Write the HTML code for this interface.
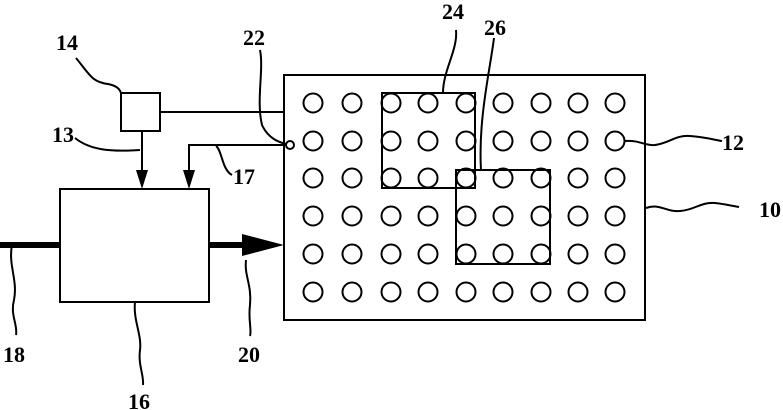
<!DOCTYPE html>
<html><head><style>
html,body{margin:0;padding:0;background:#fff;}
svg{display:block;}
text{font-family:"Liberation Serif",serif;font-size:22px;font-weight:bold;fill:#000;}
</style></head><body>
<svg width="783" height="410" viewBox="0 0 783 410" xmlns="http://www.w3.org/2000/svg">
<g fill="none" stroke="#000" stroke-width="2">
<rect x="284" y="75" width="361" height="245"/>
<rect x="382" y="93" width="93" height="95"/>
<rect x="456" y="170" width="94" height="94"/>
<rect x="121" y="93" width="39" height="38"/>
<rect x="60" y="189" width="149" height="113"/>
<line x1="160" y1="112" x2="284" y2="112"/>
<line x1="142" y1="131" x2="142" y2="170"/>
<polyline points="189,170 189,145 286,145"/>
<circle cx="290" cy="145" r="4"/>
<path d="M76,58 C90,75 92,82 108,84 C118,86 120,90 121,93"/>
<path d="M75,138 C90,150 110,152 140,150"/>
<path d="M260,50 C264,70 256,100 262,125 C268,138 278,142 286,144"/>
<path d="M216,146 C222,150 222,170 232,175"/>
<path d="M456,30 C458,50 443,70 443,93"/>
<path d="M494,38 C490,70 478,120 481,170"/>
<path d="M625,141 C640,140 645,146 655,145 C670,143 675,135 690,136 C705,137 715,140 722,141"/>
<path d="M646,208 C660,203 665,212 680,211 C695,210 700,202 715,203 C725,204 732,206 739,207"/>
<path d="M12,245 C8,265 18,280 14,300 C10,315 18,325 16,335"/>
<path d="M135,302 C133,320 142,335 140,350 C138,365 144,375 143,385"/>
<path d="M246,260 C244,275 252,285 250,305 C248,320 252,330 250,336"/>
</g>
<g fill="#000">
<polygon points="136,170 148,170 142,189"/>
<polygon points="183,170 195,170 189,189"/>
<rect x="0" y="242" width="60" height="6"/>
<rect x="209" y="242" width="35" height="6"/>
<polygon points="242,234 284,245 242,256"/>
</g>
<g fill="none" stroke="#000" stroke-width="2">
<circle cx="313" cy="103" r="9.5"/><circle cx="352" cy="103" r="9.5"/><circle cx="391" cy="103" r="9.5"/><circle cx="428" cy="103" r="9.5"/><circle cx="466" cy="103" r="9.5"/><circle cx="503" cy="103" r="9.5"/><circle cx="541" cy="103" r="9.5"/><circle cx="578" cy="103" r="9.5"/><circle cx="615" cy="103" r="9.5"/>
<circle cx="313" cy="141" r="9.5"/><circle cx="352" cy="141" r="9.5"/><circle cx="391" cy="141" r="9.5"/><circle cx="428" cy="141" r="9.5"/><circle cx="466" cy="141" r="9.5"/><circle cx="503" cy="141" r="9.5"/><circle cx="541" cy="141" r="9.5"/><circle cx="578" cy="141" r="9.5"/><circle cx="615" cy="141" r="9.5"/>
<circle cx="313" cy="178" r="9.5"/><circle cx="352" cy="178" r="9.5"/><circle cx="391" cy="178" r="9.5"/><circle cx="428" cy="178" r="9.5"/><circle cx="466" cy="178" r="9.5"/><circle cx="503" cy="178" r="9.5"/><circle cx="541" cy="178" r="9.5"/><circle cx="578" cy="178" r="9.5"/><circle cx="615" cy="178" r="9.5"/>
<circle cx="313" cy="216" r="9.5"/><circle cx="352" cy="216" r="9.5"/><circle cx="391" cy="216" r="9.5"/><circle cx="428" cy="216" r="9.5"/><circle cx="466" cy="216" r="9.5"/><circle cx="503" cy="216" r="9.5"/><circle cx="541" cy="216" r="9.5"/><circle cx="578" cy="216" r="9.5"/><circle cx="615" cy="216" r="9.5"/>
<circle cx="313" cy="254" r="9.5"/><circle cx="352" cy="254" r="9.5"/><circle cx="391" cy="254" r="9.5"/><circle cx="428" cy="254" r="9.5"/><circle cx="466" cy="254" r="9.5"/><circle cx="503" cy="254" r="9.5"/><circle cx="541" cy="254" r="9.5"/><circle cx="578" cy="254" r="9.5"/><circle cx="615" cy="254" r="9.5"/>
<circle cx="313" cy="292" r="9.5"/><circle cx="352" cy="292" r="9.5"/><circle cx="391" cy="292" r="9.5"/><circle cx="428" cy="292" r="9.5"/><circle cx="466" cy="292" r="9.5"/><circle cx="503" cy="292" r="9.5"/><circle cx="541" cy="292" r="9.5"/><circle cx="578" cy="292" r="9.5"/><circle cx="615" cy="292" r="9.5"/>
</g>
<text x="56" y="50">14</text>
<text x="243" y="45">22</text>
<text x="52" y="142">13</text>
<text x="233" y="184">17</text>
<text x="3" y="362">18</text>
<text x="128" y="409">16</text>
<text x="238" y="362">20</text>
<text x="442" y="19">24</text>
<text x="484" y="35">26</text>
<text x="722" y="150">12</text>
<text x="759" y="217">10</text>
</svg>
</body></html>
